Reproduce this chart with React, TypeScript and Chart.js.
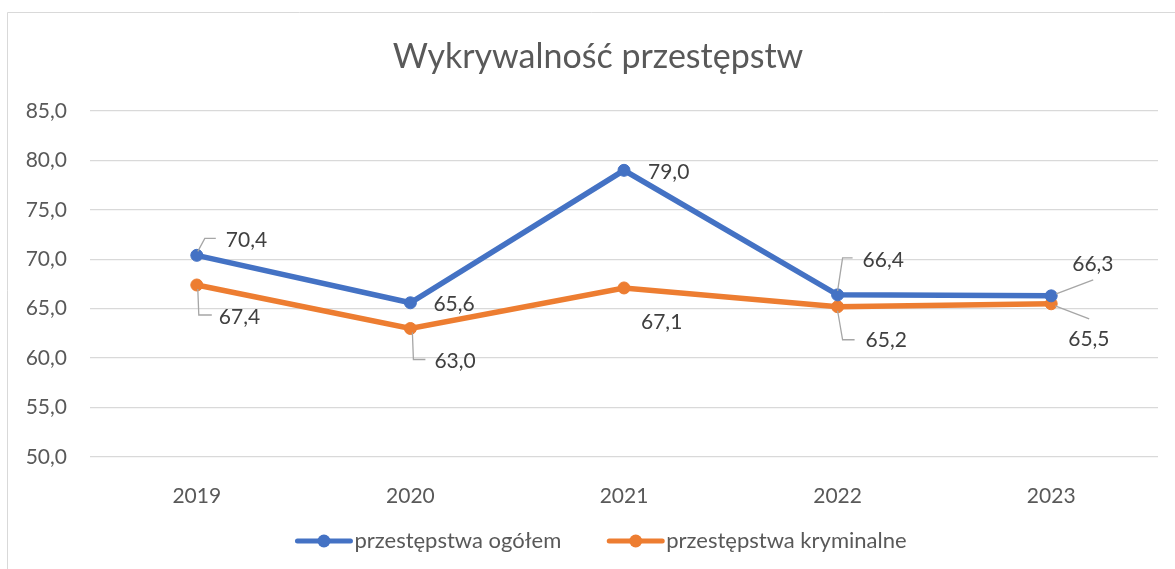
import React, { useEffect, useRef } from "react";
import { Chart, registerables } from "chart.js";

Chart.register(...registerables);

// ---- data ----
const chartTitle = "Wykrywalność przestępstw";
const years = ["2019", "2020", "2021", "2022", "2023"];
const seriesNames = ["przestępstwa ogółem", "przestępstwa kryminalne"];
const ogolem = [70.4, 65.6, 79.0, 66.4, 66.3];
const kryminalne = [67.4, 63.0, 67.1, 65.2, 65.5];
const yTickValues = [50, 55, 60, 65, 70, 75, 80, 85];

// ---- style ----
const COLORS = ["#4472C4", "#ED7D31"];
const FONT = "Lato, 'Open Sans', sans-serif";
const TEXT = "#595959";
const LABEL_TEXT = "#404040";
const GRID = "#d9d9d9";
const LEADER = "#a6a6a6";

type Placement = { dx: number; dy: number; leader?: number[][] };
// data-label placement relative to each point (text left x, text centre y)
const labelPlacement: Placement[][] = [
  [
    { dx: 29, dy: -15, leader: [[1, -4], [8, -17], [19, -17]] },
    { dx: 23, dy: 1 },
    { dx: 24, dy: 2 },
    { dx: 25, dy: -35, leader: [[0, -4], [5, -37], [15, -37]] },
    { dx: 21, dy: -32, leader: [[5, -2], [42, -16]] },
  ],
  [
    { dx: 22, dy: 32, leader: [[1, 4], [2, 30], [15, 30]] },
    { dx: 24, dy: 33, leader: [[2, 4], [3, 31], [15, 31]] },
    { dx: 17, dy: 34 },
    { dx: 28, dy: 33, leader: [[0, 4], [5, 33], [17, 33]] },
    { dx: 17, dy: 35, leader: [[4, 2], [38, 15]] },
  ],
];

const fmt = (v: number) => v.toFixed(1).replace(".", ",");

const decorPlugin = {
  id: "decor",
  beforeDraw(chart: any) {
    const ctx = chart.ctx;
    ctx.save();
    ctx.fillStyle = "#ffffff";
    ctx.fillRect(0, 0, chart.width, chart.height);
    ctx.strokeStyle = GRID;
    ctx.lineWidth = 1;
    ctx.beginPath();
    ctx.moveTo(7.5, chart.height);
    ctx.lineTo(7.5, 12.5);
    ctx.lineTo(chart.width, 12.5);
    ctx.stroke();
    ctx.restore();
  },
  afterDatasetsDraw(chart: any) {
    const ctx = chart.ctx;
    ctx.save();
    chart.data.datasets.forEach((ds: any, di: number) => {
      const meta = chart.getDatasetMeta(di);
      meta.data.forEach((pt: any, i: number) => {
        const pl = labelPlacement[di][i];
        const x = pt.x;
        const y = pt.y;
        if (pl.leader) {
          ctx.strokeStyle = LEADER;
          ctx.lineWidth = 1.3;
          ctx.beginPath();
          pl.leader.forEach((p, k) => {
            if (k === 0) ctx.moveTo(x + p[0], y + p[1]);
            else ctx.lineTo(x + p[0], y + p[1]);
          });
          ctx.stroke();
        }
        ctx.fillStyle = LABEL_TEXT;
        ctx.font = `21px ${FONT}`;
        ctx.textAlign = "left";
        ctx.textBaseline = "middle";
        ctx.fillText(fmt(ds.data[i]), x + pl.dx, y + pl.dy);
      });
    });
    ctx.restore();
  },
  afterDraw(chart: any) {
    const ctx = chart.ctx;
    ctx.save();
    // title
    ctx.fillStyle = TEXT;
    ctx.font = `34px ${FONT}`;
    ctx.textAlign = "center";
    ctx.textBaseline = "middle";
    ctx.fillText(chartTitle, 598, 57);

    // legend
    ctx.font = `22px ${FONT}`;
    const lineLen = 57;
    const gap = 2;
    const itemGap = 46;
    const widths = chart.data.datasets.map(
      (ds: any) => lineLen + gap + ctx.measureText(ds.label).width
    );
    const total = widths.reduce((a: number, b: number) => a + b, 0) + itemGap * (widths.length - 1);
    let x = 601 - total / 2;
    const ly = 541;
    chart.data.datasets.forEach((ds: any, di: number) => {
      ctx.strokeStyle = ds.borderColor;
      ctx.lineWidth = 5;
      ctx.lineCap = "round";
      ctx.beginPath();
      ctx.moveTo(x + 2, ly);
      ctx.lineTo(x + lineLen - 2, ly);
      ctx.stroke();
      ctx.fillStyle = ds.borderColor;
      ctx.beginPath();
      ctx.arc(x + lineLen / 2, ly, 6.5, 0, Math.PI * 2);
      ctx.fill();
      ctx.fillStyle = TEXT;
      ctx.textAlign = "left";
      ctx.textBaseline = "middle";
      ctx.fillText(ds.label, x + lineLen + gap, ly);
      x += widths[di] + itemGap;
    });
    ctx.restore();
  },
};

export default function App() {
  const ref = useRef<HTMLCanvasElement>(null);

  useEffect(() => {
    if (!ref.current) return;
    const mk = (label: string, data: number[], color: string) => ({
      label,
      data,
      borderColor: color,
      backgroundColor: color,
      borderWidth: 5.5,
      pointRadius: 6,
      pointBorderWidth: 1,
      pointBackgroundColor: color,
      pointBorderColor: color,
      tension: 0,
    });
    const chart = new Chart(ref.current, {
      type: "line",
      data: {
        labels: years,
        datasets: [mk(seriesNames[0], ogolem, COLORS[0]), mk(seriesNames[1], kryminalne, COLORS[1])],
      },
      options: {
        responsive: false,
        animation: false,
        devicePixelRatio: 1,
        layout: { padding: { left: 0, right: 17, top: 111, bottom: 52 } },
        plugins: {
          legend: { display: false },
          title: { display: false },
          tooltip: { enabled: false },
        },
        scales: {
          x: {
            offset: true,
            grid: { display: false },
            border: { display: false },
            ticks: { color: TEXT, font: { family: FONT, size: 21 }, padding: 19 },
            afterFit: (s: any) => {
              s.height = 60;
            },
          },
          y: {
            min: yTickValues[0],
            max: yTickValues[yTickValues.length - 1],
            afterBuildTicks: (s: any) => {
              s.ticks = yTickValues.map((v) => ({ value: v }));
            },
            grid: { color: GRID, lineWidth: 1.3, drawTicks: false },
            border: { display: false },
            ticks: {
              color: TEXT,
              font: { family: FONT, size: 21 },
              padding: 23,
              callback: (v: any) => fmt(Number(v)),
            },
            afterFit: (s: any) => {
              s.width = 90;
            },
          },
        },
      },
      plugins: [decorPlugin],
    });
    return () => chart.destroy();
  }, []);

  return (
    <div style={{ position: "fixed", left: 0, top: 0, width: 1175, height: 569, background: "#fff" }}>
      <canvas ref={ref} width={1175} height={569} style={{ display: "block" }} />
    </div>
  );
}
